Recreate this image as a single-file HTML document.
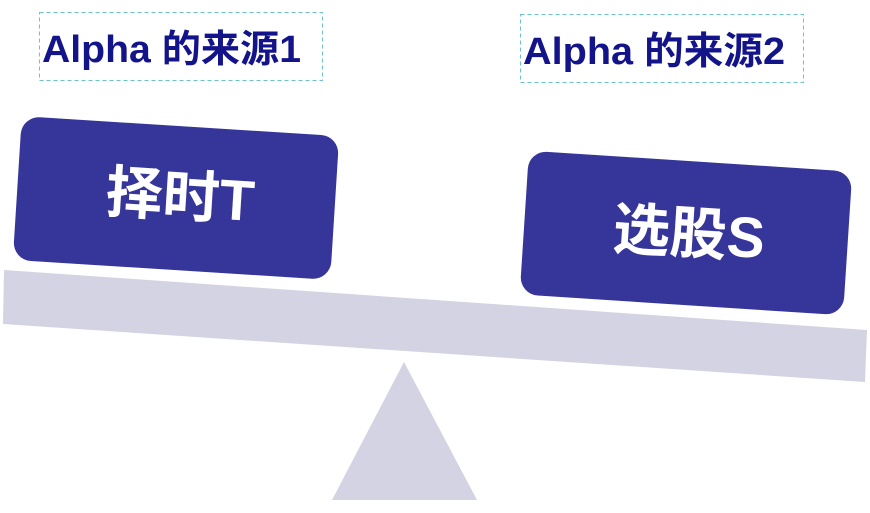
<!DOCTYPE html>
<html><head><meta charset="utf-8"><style>
html,body{margin:0;padding:0;background:#fff;width:870px;height:513px;overflow:hidden}
</style></head><body>
<svg width="870" height="513" viewBox="0 0 870 513" xmlns="http://www.w3.org/2000/svg">
<rect x="39.5" y="12.5" width="283" height="68" fill="none" stroke="#6cc3c8" stroke-width="1" stroke-dasharray="4,3"/>
<rect x="520.5" y="14.5" width="283" height="68" fill="none" stroke="#6cc3c8" stroke-width="1" stroke-dasharray="4,3"/>
<text x="42" y="62" textLength="259" lengthAdjust="spacingAndGlyphs" font-family="Liberation Sans, Noto Sans CJK SC, sans-serif" font-weight="bold" font-size="38" fill="#14148a">Alpha 的来源1</text>
<text x="523" y="64" textLength="262" lengthAdjust="spacingAndGlyphs" font-family="Liberation Sans, Noto Sans CJK SC, sans-serif" font-weight="bold" font-size="38" fill="#14148a">Alpha 的来源2</text>
<polygon points="4,270 867,330 865,382 3,324" fill="#d3d3e3"/>
<polygon points="404,362 477,500 332,500" fill="#d3d3e3"/>
<g transform="rotate(3.6 176 198)">
<rect x="17" y="126" width="318" height="144" rx="18" fill="#35359a"/>
<text x="180" y="216" text-anchor="middle" font-family="Liberation Sans, Noto Sans CJK SC, sans-serif" font-weight="bold" font-size="57" fill="#fff">择时T</text>
</g>
<g transform="rotate(3.7 686 233)">
<rect x="524" y="161" width="324" height="144" rx="18" fill="#35359a"/>
<text x="689" y="253" text-anchor="middle" font-family="Liberation Sans, Noto Sans CJK SC, sans-serif" font-weight="bold" font-size="57" fill="#fff">选股S</text>
</g>
</svg>
</body></html>
